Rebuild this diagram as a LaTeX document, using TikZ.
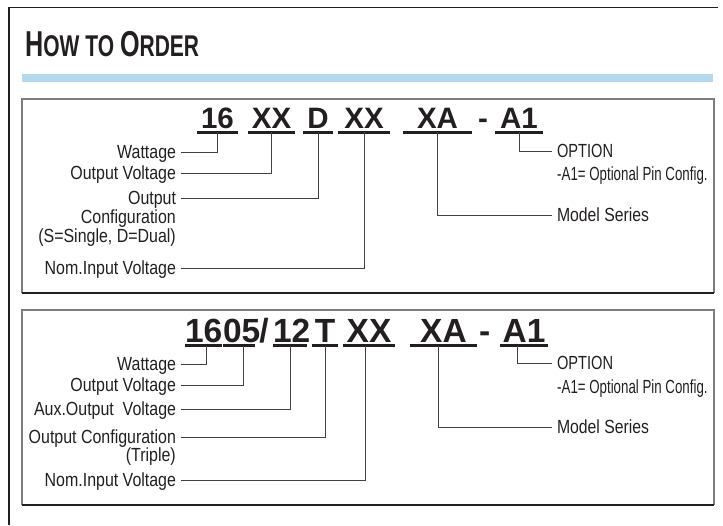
\documentclass[tikz,border=0pt]{standalone}
\usepackage{fontspec}
\setmainfont{Liberation Sans}
\newfontfamily\lblfont[FakeStretch=0.84]{Liberation Sans}
\newfontfamily\condfont[FakeStretch=0.7]{Liberation Sans}
\newfontfamily\optfont[FakeStretch=0.77]{Liberation Sans}
\newfontfamily\msfont[FakeStretch=0.83]{Liberation Sans}
\newfontfamily\titlefont[FakeStretch=0.7]{Liberation Sans}
\definecolor{bandblue}{RGB}{180,216,238}
\definecolor{ink}{RGB}{35,31,32}
\definecolor{boxgray}{RGB}{125,125,125}
\tikzset{
  lbl/.style={font=\lblfont\fontsize{19}{19}\selectfont, text=ink, inner sep=0pt, outer xsep=5pt,
              text height=13.5pt, text depth=0pt, anchor=east},
  lblplain/.style={font=\lblfont\fontsize{19}{19}\selectfont, text=ink, inner sep=0pt,
              text height=13.5pt, text depth=0pt, anchor=east},
  rlbl/.style={font=\optfont\fontsize{19}{19}\selectfont, text=ink, inner sep=0pt, outer xsep=5pt,
              text height=13.5pt, text depth=0pt, anchor=west},
  mslbl/.style={font=\msfont\fontsize{19}{19}\selectfont, text=ink, inner sep=0pt, outer xsep=5pt,
              text height=13.5pt, text depth=0pt, anchor=west},
  rplain/.style={font=\condfont\fontsize{19}{19}\selectfont, text=ink, inner sep=0pt,
              text height=13.5pt, text depth=0pt, anchor=west},
  segA/.style={font=\bfseries\fontsize{29.5}{29.5}\selectfont, text=ink, inner xsep=0pt, inner ysep=4pt,
              text height=20pt, text depth=0pt, anchor=base, align=center},
  segB/.style={font=\bfseries\fontsize{33.5}{33.5}\selectfont, text=ink, inner xsep=0pt, inner ysep=3.5pt,
              text height=23pt, text depth=0pt, anchor=base, align=center},
  uline/.style={draw=ink, line width=2.6pt},
  conn/.style={draw=ink!85, line width=0.85pt},
  panel/.style={draw=boxgray, line width=1.1pt},
}
\begin{document}
\begin{tikzpicture}[x=1pt,y=-1pt]
\useasboundingbox (0,0) rectangle (723,525);
% outer frame
\draw[ink, line width=1.2pt] (9,525) -- (9,7.5) -- (718,7.5);
% title
\node[anchor=base west, inner sep=0pt, text=ink, font=\titlefont\bfseries] (title) at (25,56)
  {{\fontsize{36}{36}\selectfont H}{\fontsize{30}{30}\selectfont OW TO }{\fontsize{36}{36}\selectfont O}{\fontsize{30}{30}\selectfont RDER}};
\fill[bandblue] (22,74) rectangle (713,82);
% panels
\draw[panel] (22,293) -- (22,99) -- (714,99) -- (714,293);
\draw[ink, line width=1.1pt] (22,293) -- (714,293);
\draw[panel] (22,505) -- (22,310) -- (714,310) -- (714,505);
\draw[ink, line width=1.1pt] (22,505) -- (714,505);

% ---------- panel 1 ----------
\node[segA, text width=41pt] (a16) at (217.5,128) {16};
\node[segA, text width=47pt] (axx) at (271.5,128) {XX};
\node[segA, text width=30pt] (ad)  at (318,128) {D};
\node[segA, text width=52pt] (ain) at (364,128) {XX};
\node[segA, text width=69pt] (axa) at (437.5,128) {XA};
\node[segA, text width=10pt] (adash) at (483,128) {-};
\node[segA, text width=48pt] (aa1) at (519,128) {A1};
\foreach \n in {a16,axx,ad,ain,axa,aa1} \draw[uline] (\n.south west) -- (\n.south east);

\node[lbl] (aw) at (181,152) {Wattage};
\node[lbl] (aov) at (181,173) {Output Voltage};
\node[lbl] (aoc) at (181,198) {Output};
\node[lblplain] (aoc2) at (176,217) {Configuration};
\node[lblplain] (aoc3) at (176,236) {(S=Single, D=Dual)};
\node[lbl] (anv) at (181,268) {Nom.Input Voltage};
\node[rlbl] (aopt) at (552,151) {OPTION};
\node[rplain] (aopt2) at (557,174) {-A1= Optional Pin Config.};
\node[mslbl] (ams) at (552,215) {Model Series};

\draw[conn] (aw.east) -| (a16.south);
\draw[conn] (aov.east) -| (axx.south);
\draw[conn] (aoc.east) -| (ad.south);
\draw[conn] (anv.east) -| (ain.south);
\draw[conn] (axa.south) |- (ams.west);
\draw[conn] (aa1.south) |- (aopt.west);

% ---------- panel 2 ----------
\node[segB, text width=37pt] (b16) at (203.5,342) {16};
\node[segB, text width=32pt] (b05) at (239,342) {05};
\node[segB, text width=14pt] (bsl) at (264,342) {/};
\node[segB, text width=34pt] (b12) at (290,342) {12};
\node[segB, text width=26pt] (bt)  at (325,342) {T};
\node[segB, text width=52pt] (bin) at (369,342) {XX};
\node[segB, text width=67pt] (bxa) at (443.5,342) {XA};
\node[segB, text width=10pt] (bdash) at (484,342) {-};
\node[segB, text width=48pt] (ba1) at (524,342) {A1};
\foreach \n in {b16,b05,b12,bt,bin,bxa,ba1} \draw[uline] (\n.south west) -- (\n.south east);

\node[lbl] (bw) at (181,364) {Wattage};
\node[lbl] (bov) at (181,385) {Output Voltage};
\node[lbl] (bav) at (181,409) {Aux.Output\ \ Voltage};
\node[lbl] (boc) at (181,437) {Output Configuration};
\node[lblplain] (boc2) at (176,455) {(Triple)};
\node[lbl] (bnv) at (181,480) {Nom.Input Voltage};
\node[rlbl] (bopt) at (552,363) {OPTION};
\node[rplain] (bopt2) at (557,387) {-A1= Optional Pin Config.};
\node[mslbl] (bms) at (552,427) {Model Series};

\draw[conn] (bw.east) -| ([xshift=3pt]b16.south);
\draw[conn] (bov.east) -| ([xshift=4pt]b05.south);
\draw[conn] (bav.east) -| (b12.south);
\draw[conn] (boc.east) -| (bt.south);
\draw[conn] (bnv.east) -| ([xshift=-4pt]bin.south);
\draw[conn] ([xshift=-5pt]bxa.south) |- (bms.west);
\draw[conn] ([xshift=-7pt]ba1.south) |- (bopt.west);
\end{tikzpicture}
\end{document}
